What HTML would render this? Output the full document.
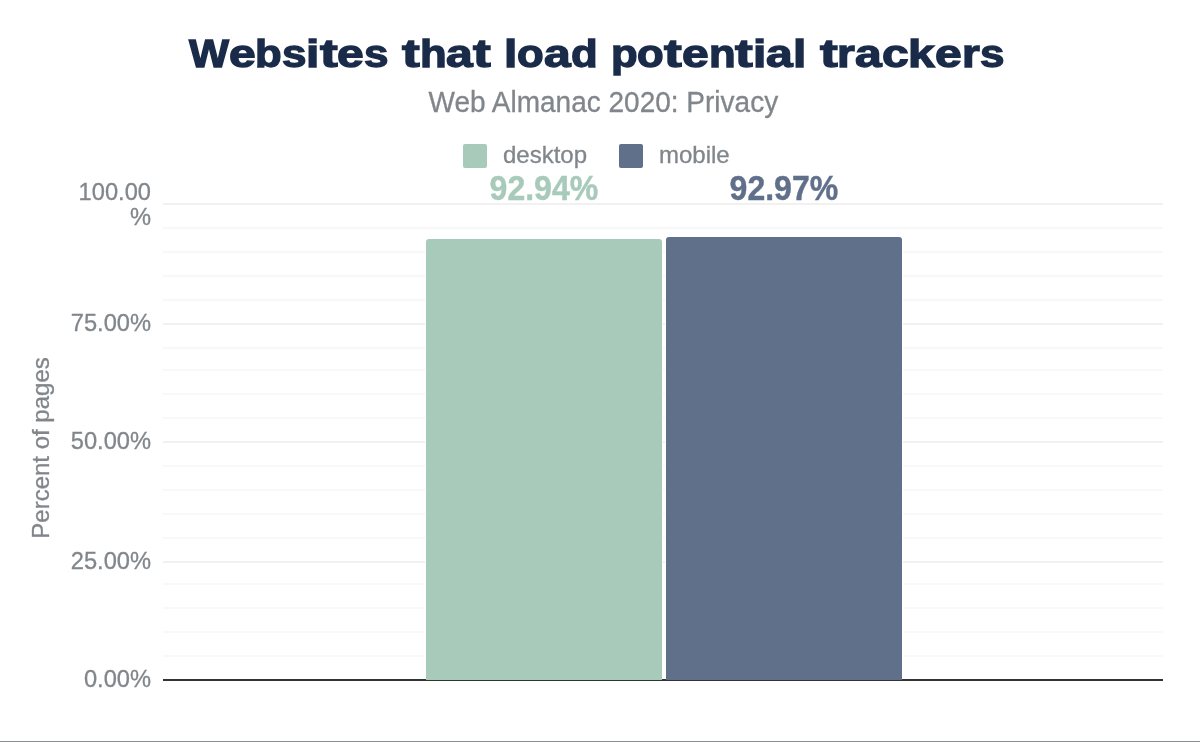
<!DOCTYPE html>
<html><head><meta charset="utf-8"><title>Websites that load potential trackers</title>
<style>
html,body{margin:0;padding:0;background:#fff;}
body{width:1200px;height:742px;position:relative;overflow:hidden;font-family:"Liberation Sans",sans-serif;}
.abs{position:absolute;white-space:nowrap;line-height:1;}
.g{position:absolute;left:163px;width:1000px;height:2px;}
.tw{position:absolute;white-space:nowrap;line-height:1;font-weight:bold;font-size:38px;color:#1a2b49;transform-origin:0 0;-webkit-text-stroke:1.3px #1a2b49;}
.sub{font-size:28px;color:#80868b;-webkit-text-stroke:0.3px #80868b;transform-origin:50% 81%;transform:scaleY(1.045);}
.lg{font-size:24px;color:#80868b;-webkit-text-stroke:0.3px #80868b;}
.ax{font-size:24px;color:#80868b;text-align:right;width:120px;left:30.7px;line-height:24px;transform-origin:100% 50%;transform:scale(0.986,1.02);-webkit-text-stroke:0.3px #80868b;}
.dl{font-size:32px;font-weight:bold;transform-origin:50% 85%;transform:scaleY(1.075);-webkit-text-stroke:0.4px;}
.sw{position:absolute;width:24px;height:24px;border-radius:2px;top:144px;}
.bo{position:absolute;background:#fff;border-radius:4px 4px 0 0;}
.bar{position:absolute;border-radius:3px 3px 0 0;}
</style></head><body><div id="wrap" style="position:absolute;left:0;top:0;width:1200px;height:742px;transform:translateZ(0)">
<h1 style="margin:0;font-size:0" aria-label="Websites that load potential trackers">
<span class="tw" style="left:188.50px;top:34.9px;transform:scaleX(1.1151)">W</span><span class="tw" style="left:228.50px;top:34.9px;transform:scaleX(1.2628)">e</span><span class="tw" style="left:255.18px;top:34.9px;transform:scaleX(1.1491)">b</span><span class="tw" style="left:281.86px;top:34.9px;transform:scaleX(1.1568)">s</span><span class="tw" style="left:306.30px;top:34.9px;transform:scaleX(1.2609)">i</span><span class="tw" style="left:319.62px;top:34.9px;transform:scaleX(1.4035)">t</span><span class="tw" style="left:337.38px;top:34.9px;transform:scaleX(1.2628)">e</span><span class="tw" style="left:364.06px;top:34.9px;transform:scaleX(1.1568)">s</span><span class="tw" style="left:401.82px;top:34.9px;transform:scaleX(1.4035)">t</span><span class="tw" style="left:419.58px;top:34.9px;transform:scaleX(1.1491)">h</span><span class="tw" style="left:446.26px;top:34.9px;transform:scaleX(1.2628)">a</span><span class="tw" style="left:472.94px;top:34.9px;transform:scaleX(1.4035)">t</span><span class="tw" style="left:504.02px;top:34.9px;transform:scaleX(1.2609)">l</span><span class="tw" style="left:517.34px;top:34.9px;transform:scaleX(1.1491)">o</span><span class="tw" style="left:544.02px;top:34.9px;transform:scaleX(1.2628)">a</span><span class="tw" style="left:570.70px;top:34.9px;transform:scaleX(1.1491)">d</span><span class="tw" style="left:610.70px;top:34.9px;transform:scaleX(1.1491)">p</span><span class="tw" style="left:637.38px;top:34.9px;transform:scaleX(1.1491)">o</span><span class="tw" style="left:664.06px;top:34.9px;transform:scaleX(1.4035)">t</span><span class="tw" style="left:681.82px;top:34.9px;transform:scaleX(1.2628)">e</span><span class="tw" style="left:708.50px;top:34.9px;transform:scaleX(1.1491)">n</span><span class="tw" style="left:735.18px;top:34.9px;transform:scaleX(1.4035)">t</span><span class="tw" style="left:752.94px;top:34.9px;transform:scaleX(1.2609)">i</span><span class="tw" style="left:766.26px;top:34.9px;transform:scaleX(1.2628)">a</span><span class="tw" style="left:792.94px;top:34.9px;transform:scaleX(1.2609)">l</span><span class="tw" style="left:819.58px;top:34.9px;transform:scaleX(1.4035)">t</span><span class="tw" style="left:837.34px;top:34.9px;transform:scaleX(1.2015)">r</span><span class="tw" style="left:855.10px;top:34.9px;transform:scaleX(1.2628)">a</span><span class="tw" style="left:881.78px;top:34.9px;transform:scaleX(1.2628)">c</span><span class="tw" style="left:908.46px;top:34.9px;transform:scaleX(1.2628)">k</span><span class="tw" style="left:935.14px;top:34.9px;transform:scaleX(1.2628)">e</span><span class="tw" style="left:961.82px;top:34.9px;transform:scaleX(1.2015)">r</span><span class="tw" style="left:979.58px;top:34.9px;transform:scaleX(1.1568)">s</span></h1>
<div class="abs sub" id="sub" style="left:428.5px;top:89px">Web Almanac 2020: Privacy</div>
<div class="sw" style="left:463px;background:#a8caba"></div>
<div class="abs lg" id="lg1" style="left:503px;top:142.7px">desktop</div>
<div class="sw" style="left:619px;background:#60708b"></div>
<div class="abs lg" id="lg2" style="left:659px;top:142.7px">mobile</div>
<div class="g" style="top:203px;background:#f1f1f1"></div>
<div class="g" style="top:227px;background:#f8f8f8"></div>
<div class="g" style="top:251px;background:#f8f8f8"></div>
<div class="g" style="top:275px;background:#f8f8f8"></div>
<div class="g" style="top:299px;background:#f8f8f8"></div>
<div class="g" style="top:323px;background:#f1f1f1"></div>
<div class="g" style="top:347px;background:#f8f8f8"></div>
<div class="g" style="top:369px;background:#f8f8f8"></div>
<div class="g" style="top:393px;background:#f8f8f8"></div>
<div class="g" style="top:417px;background:#f8f8f8"></div>
<div class="g" style="top:441px;background:#f1f1f1"></div>
<div class="g" style="top:465px;background:#f8f8f8"></div>
<div class="g" style="top:489px;background:#f8f8f8"></div>
<div class="g" style="top:513px;background:#f8f8f8"></div>
<div class="g" style="top:537px;background:#f8f8f8"></div>
<div class="g" style="top:561px;background:#f1f1f1"></div>
<div class="g" style="top:583px;background:#f8f8f8"></div>
<div class="g" style="top:607px;background:#f8f8f8"></div>
<div class="g" style="top:631px;background:#f8f8f8"></div>
<div class="g" style="top:655px;background:#f8f8f8"></div>

<div class="abs dl" id="dl1" style="left:489.6px;top:173.4px;color:#a8caba">92.94%</div>
<div class="abs dl" id="dl2" style="left:729.6px;top:173.4px;color:#60708b">92.97%</div>
<div class="abs ax" id="ax0" style="top:179.8px;left:31.3px;white-space:normal;transform-origin:100% 15%">100.00<br>%</div>
<div class="abs ax" id="ax1" style="top:311.3px">75.00%</div>
<div class="abs ax" id="ax2" style="top:429.3px">50.00%</div>
<div class="abs ax" id="ax3" style="top:549.3px">25.00%</div>
<div class="abs ax" id="ax4" style="top:667.3px">0.00%</div>
<div class="abs lg" id="yt" style="left:0;top:0;transform-origin:0 0;transform:translate(28.5px,538.7px) rotate(-90deg)">Percent of pages</div>
<div class="bo" style="left:425px;top:238px;width:238px;height:441px"></div>
<div class="bo" style="left:665px;top:236px;width:238px;height:443px"></div>
<div style="position:absolute;left:163px;top:679px;width:1000px;height:2px;background:#333"></div>
<div class="bar" style="left:426px;top:239px;width:236px;height:441px;background:#a8caba"></div>
<div class="bar" style="left:666px;top:237px;width:236px;height:443px;background:#60708b"></div>
<div style="position:absolute;left:0;top:741px;width:1200px;height:1px;background:#8a8d91"></div>
</div></body></html>
